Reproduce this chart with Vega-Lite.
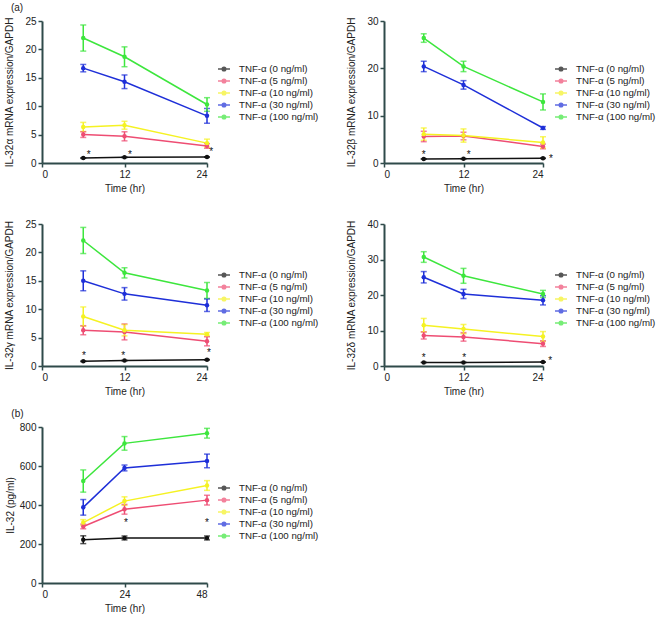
{
  "$schema": "https://vega.github.io/schema/vega-lite/v6.json",
  "autosize": {"type": "pad"},
  "padding": {"left": 4, "top": 3, "right": 0, "bottom": 5},
  "background": "white",
  "config": {
    "font": "Liberation Sans",
    "view": {"stroke": null},
    "axis": {"grid": false, "domainColor": "#2f4a4a", "domainWidth": 2, "tickColor": "#2f4a4a", "tickWidth": 1.5, "tickSize": 4, "labelColor": "#222222", "labelFontSize": 10, "titleFontSize": 10, "titleFontWeight": "normal", "titleColor": "#222222", "labelFont": "Liberation Sans", "titleFont": "Liberation Sans"},
    "legend": {"labelFont": "Liberation Sans", "labelFontSize": 9.7, "labelColor": "#222222"},
    "title": {"font": "Liberation Sans", "fontSize": 10, "fontWeight": "normal", "color": "#222222", "anchor": "start", "frame": "bounds", "offset": 3}
  },
  "datasets": {
    "main": [
      {"panel": "alpha", "dose": "TNF-α (0 ng/ml)", "time": 6, "value": 0.87, "err": 0.05},
      {"panel": "alpha", "dose": "TNF-α (0 ng/ml)", "time": 12, "value": 1.0, "err": 0.05},
      {"panel": "alpha", "dose": "TNF-α (0 ng/ml)", "time": 24, "value": 1.05, "err": 0.05},
      {"panel": "alpha", "dose": "TNF-α (5 ng/ml)", "time": 6, "value": 5.0, "err": 0.5},
      {"panel": "alpha", "dose": "TNF-α (5 ng/ml)", "time": 12, "value": 4.7, "err": 0.8},
      {"panel": "alpha", "dose": "TNF-α (5 ng/ml)", "time": 24, "value": 3.0, "err": 0.4},
      {"panel": "alpha", "dose": "TNF-α (10 ng/ml)", "time": 6, "value": 6.35, "err": 0.8},
      {"panel": "alpha", "dose": "TNF-α (10 ng/ml)", "time": 12, "value": 6.65, "err": 0.7},
      {"panel": "alpha", "dose": "TNF-α (10 ng/ml)", "time": 24, "value": 3.5, "err": 0.7},
      {"panel": "alpha", "dose": "TNF-α (30 ng/ml)", "time": 6, "value": 16.7, "err": 0.65},
      {"panel": "alpha", "dose": "TNF-α (30 ng/ml)", "time": 12, "value": 14.3, "err": 1.2},
      {"panel": "alpha", "dose": "TNF-α (30 ng/ml)", "time": 24, "value": 8.3, "err": 1.3},
      {"panel": "alpha", "dose": "TNF-α (100 ng/ml)", "time": 6, "value": 22.0, "err": 2.3},
      {"panel": "alpha", "dose": "TNF-α (100 ng/ml)", "time": 12, "value": 18.7, "err": 1.75},
      {"panel": "alpha", "dose": "TNF-α (100 ng/ml)", "time": 24, "value": 10.3, "err": 1.2},

      {"panel": "beta", "dose": "TNF-α (0 ng/ml)", "time": 6, "value": 0.86, "err": 0.05},
      {"panel": "beta", "dose": "TNF-α (0 ng/ml)", "time": 12, "value": 0.9, "err": 0.05},
      {"panel": "beta", "dose": "TNF-α (0 ng/ml)", "time": 24, "value": 1.0, "err": 0.05},
      {"panel": "beta", "dose": "TNF-α (5 ng/ml)", "time": 6, "value": 5.6, "err": 1.1},
      {"panel": "beta", "dose": "TNF-α (5 ng/ml)", "time": 12, "value": 5.7, "err": 0.8},
      {"panel": "beta", "dose": "TNF-α (5 ng/ml)", "time": 24, "value": 3.5, "err": 0.5},
      {"panel": "beta", "dose": "TNF-α (10 ng/ml)", "time": 6, "value": 6.1, "err": 1.3},
      {"panel": "beta", "dose": "TNF-α (10 ng/ml)", "time": 12, "value": 5.8, "err": 1.4},
      {"panel": "beta", "dose": "TNF-α (10 ng/ml)", "time": 24, "value": 4.35, "err": 1.2},
      {"panel": "beta", "dose": "TNF-α (30 ng/ml)", "time": 6, "value": 20.4, "err": 1.1},
      {"panel": "beta", "dose": "TNF-α (30 ng/ml)", "time": 12, "value": 16.5, "err": 0.9},
      {"panel": "beta", "dose": "TNF-α (30 ng/ml)", "time": 24, "value": 7.4, "err": 0.3},
      {"panel": "beta", "dose": "TNF-α (100 ng/ml)", "time": 6, "value": 26.4, "err": 0.9},
      {"panel": "beta", "dose": "TNF-α (100 ng/ml)", "time": 12, "value": 20.4, "err": 1.1},
      {"panel": "beta", "dose": "TNF-α (100 ng/ml)", "time": 24, "value": 12.9, "err": 1.7},

      {"panel": "gamma", "dose": "TNF-α (0 ng/ml)", "time": 6, "value": 0.83, "err": 0.05},
      {"panel": "gamma", "dose": "TNF-α (0 ng/ml)", "time": 12, "value": 0.95, "err": 0.05},
      {"panel": "gamma", "dose": "TNF-α (0 ng/ml)", "time": 24, "value": 1.1, "err": 0.05},
      {"panel": "gamma", "dose": "TNF-α (5 ng/ml)", "time": 6, "value": 6.3, "err": 0.8},
      {"panel": "gamma", "dose": "TNF-α (5 ng/ml)", "time": 12, "value": 6.0, "err": 1.4},
      {"panel": "gamma", "dose": "TNF-α (5 ng/ml)", "time": 24, "value": 4.35, "err": 0.8},
      {"panel": "gamma", "dose": "TNF-α (10 ng/ml)", "time": 6, "value": 8.7, "err": 1.7},
      {"panel": "gamma", "dose": "TNF-α (10 ng/ml)", "time": 12, "value": 6.3, "err": 1.0},
      {"panel": "gamma", "dose": "TNF-α (10 ng/ml)", "time": 24, "value": 5.6, "err": 0.3},
      {"panel": "gamma", "dose": "TNF-α (30 ng/ml)", "time": 6, "value": 15.0, "err": 1.75},
      {"panel": "gamma", "dose": "TNF-α (30 ng/ml)", "time": 12, "value": 12.7, "err": 1.1},
      {"panel": "gamma", "dose": "TNF-α (30 ng/ml)", "time": 24, "value": 10.7, "err": 1.1},
      {"panel": "gamma", "dose": "TNF-α (100 ng/ml)", "time": 6, "value": 22.1, "err": 2.3},
      {"panel": "gamma", "dose": "TNF-α (100 ng/ml)", "time": 12, "value": 16.4, "err": 0.9},
      {"panel": "gamma", "dose": "TNF-α (100 ng/ml)", "time": 24, "value": 13.3, "err": 1.4},

      {"panel": "delta", "dose": "TNF-α (0 ng/ml)", "time": 6, "value": 1.0, "err": 0.05},
      {"panel": "delta", "dose": "TNF-α (0 ng/ml)", "time": 12, "value": 1.0, "err": 0.05},
      {"panel": "delta", "dose": "TNF-α (0 ng/ml)", "time": 24, "value": 1.1, "err": 0.05},
      {"panel": "delta", "dose": "TNF-α (5 ng/ml)", "time": 6, "value": 8.6, "err": 1.0},
      {"panel": "delta", "dose": "TNF-α (5 ng/ml)", "time": 12, "value": 8.2, "err": 1.2},
      {"panel": "delta", "dose": "TNF-α (5 ng/ml)", "time": 24, "value": 6.3, "err": 0.8},
      {"panel": "delta", "dose": "TNF-α (10 ng/ml)", "time": 6, "value": 11.5, "err": 1.9},
      {"panel": "delta", "dose": "TNF-α (10 ng/ml)", "time": 12, "value": 10.4, "err": 1.3},
      {"panel": "delta", "dose": "TNF-α (10 ng/ml)", "time": 24, "value": 8.3, "err": 1.4},
      {"panel": "delta", "dose": "TNF-α (30 ng/ml)", "time": 6, "value": 25.0, "err": 1.6},
      {"panel": "delta", "dose": "TNF-α (30 ng/ml)", "time": 12, "value": 20.3, "err": 1.3},
      {"panel": "delta", "dose": "TNF-α (30 ng/ml)", "time": 24, "value": 18.5, "err": 1.3},
      {"panel": "delta", "dose": "TNF-α (100 ng/ml)", "time": 6, "value": 30.7, "err": 1.5},
      {"panel": "delta", "dose": "TNF-α (100 ng/ml)", "time": 12, "value": 25.4, "err": 2.1},
      {"panel": "delta", "dose": "TNF-α (100 ng/ml)", "time": 24, "value": 20.3, "err": 1.0},

      {"panel": "prot", "dose": "TNF-α (0 ng/ml)", "time": 12, "value": 222, "err": 20},
      {"panel": "prot", "dose": "TNF-α (0 ng/ml)", "time": 24, "value": 231, "err": 10},
      {"panel": "prot", "dose": "TNF-α (0 ng/ml)", "time": 48, "value": 231, "err": 10},
      {"panel": "prot", "dose": "TNF-α (5 ng/ml)", "time": 12, "value": 290, "err": 12},
      {"panel": "prot", "dose": "TNF-α (5 ng/ml)", "time": 24, "value": 378, "err": 25},
      {"panel": "prot", "dose": "TNF-α (5 ng/ml)", "time": 48, "value": 425, "err": 25},
      {"panel": "prot", "dose": "TNF-α (10 ng/ml)", "time": 12, "value": 310, "err": 15},
      {"panel": "prot", "dose": "TNF-α (10 ng/ml)", "time": 24, "value": 420, "err": 22},
      {"panel": "prot", "dose": "TNF-α (10 ng/ml)", "time": 48, "value": 500, "err": 25},
      {"panel": "prot", "dose": "TNF-α (30 ng/ml)", "time": 12, "value": 388, "err": 40},
      {"panel": "prot", "dose": "TNF-α (30 ng/ml)", "time": 24, "value": 590, "err": 15},
      {"panel": "prot", "dose": "TNF-α (30 ng/ml)", "time": 48, "value": 626, "err": 35},
      {"panel": "prot", "dose": "TNF-α (100 ng/ml)", "time": 12, "value": 523, "err": 57},
      {"panel": "prot", "dose": "TNF-α (100 ng/ml)", "time": 24, "value": 716, "err": 35},
      {"panel": "prot", "dose": "TNF-α (100 ng/ml)", "time": 48, "value": 768, "err": 25}
    ],
    "stars": [
      {"panel": "alpha", "time": 6.8, "value": 1.8},
      {"panel": "alpha", "time": 12.8, "value": 1.8},
      {"panel": "alpha", "time": 24.6, "value": 2.3},
      {"panel": "beta", "time": 6.0, "value": 2.05},
      {"panel": "beta", "time": 12.8, "value": 2.05},
      {"panel": "beta", "time": 25.2, "value": 1.33},
      {"panel": "gamma", "time": 6.1, "value": 2.17},
      {"panel": "gamma", "time": 11.8, "value": 2.17},
      {"panel": "gamma", "time": 24.3, "value": 2.6},
      {"panel": "delta", "time": 6.0, "value": 2.8},
      {"panel": "delta", "time": 12.1, "value": 2.8},
      {"panel": "delta", "time": 25.1, "value": 2.0},
      {"panel": "prot", "time": 24.4, "value": 318},
      {"panel": "prot", "time": 48.0, "value": 318}
    ]
  },
  "columns": 2,
  "bounds": "flush",
  "spacing": {"row": 61, "column": 177},
  "resolve": {"scale": {"color": "independent"}, "legend": {"color": "independent"}},
  "concat": [
    {
      "width": 165, "height": 142,
      "title": {"text": "(a)", "dx": 6},
      "encoding": {
        "x": {"field": "time", "type": "quantitative", "scale": {"domain": [0, 24], "nice": false}, "axis": {"values": [0, 12, 24], "title": "Time (hr)"}},
        "y": {"field": "value", "type": "quantitative", "scale": {"domain": [0, 25], "nice": false}, "axis": {"values": [0, 5, 10, 15, 20, 25], "title": "IL-32α mRNA expression/GAPDH", "titlePadding": 10}}
      },
      "layer": [
        {"data": {"name": "main"}, "transform": [{"filter": "datum.panel === 'alpha'"}], "mark": {"type": "errorbar", "ticks": {"size": 6}, "thickness": 1.5}, "encoding": {"yError": {"field": "err"}, "color": {"field": "dose", "type": "nominal", "scale": {"domain": ["TNF-α (0 ng/ml)", "TNF-α (5 ng/ml)", "TNF-α (10 ng/ml)", "TNF-α (30 ng/ml)", "TNF-α (100 ng/ml)"], "range": ["#111111", "#ee4d73", "#f5f223", "#1e2fd8", "#3de63d"]}, "legend": {"title": null, "orient": "none", "legendX": 175, "legendY": 41, "symbolType": "M-1,0H1M-0.3,0A0.3,0.3,0,1,1,0.3,0A0.3,0.3,0,1,1,-0.3,0Z", "symbolSize": 144, "symbolStrokeWidth": 1.5, "rowPadding": 0, "labelOffset": 8, "padding": 0}}}},
        {"data": {"name": "main"}, "transform": [{"filter": "datum.panel === 'alpha'"}], "mark": {"type": "line", "strokeWidth": 1.5}, "encoding": {"color": {"field": "dose", "type": "nominal"}}},
        {"data": {"name": "main"}, "transform": [{"filter": "datum.panel === 'alpha'"}], "mark": {"type": "point", "filled": true, "size": 20, "opacity": 1}, "encoding": {"color": {"field": "dose", "type": "nominal"}}},
        {"data": {"name": "stars"}, "transform": [{"filter": "datum.panel === 'alpha'"}], "mark": {"type": "text", "text": "*", "fontSize": 10, "fill": "#111111", "baseline": "middle", "dy": 2}, "encoding": {}}
      ]
    },
    {
      "width": 159, "height": 142,
      "encoding": {
        "x": {"field": "time", "type": "quantitative", "scale": {"domain": [0, 24], "nice": false}, "axis": {"values": [0, 12, 24], "title": "Time (hr)"}},
        "y": {"field": "value", "type": "quantitative", "scale": {"domain": [0, 30], "nice": false}, "axis": {"values": [0, 10, 20, 30], "title": "IL-32β mRNA expression/GAPDH", "titlePadding": 10}}
      },
      "layer": [
        {"data": {"name": "main"}, "transform": [{"filter": "datum.panel === 'beta'"}], "mark": {"type": "errorbar", "ticks": {"size": 6}, "thickness": 1.5}, "encoding": {"yError": {"field": "err"}, "color": {"field": "dose", "type": "nominal", "scale": {"domain": ["TNF-α (0 ng/ml)", "TNF-α (5 ng/ml)", "TNF-α (10 ng/ml)", "TNF-α (30 ng/ml)", "TNF-α (100 ng/ml)"], "range": ["#111111", "#ee4d73", "#f5f223", "#1e2fd8", "#3de63d"]}, "legend": {"title": null, "orient": "none", "legendX": 170, "legendY": 41, "symbolType": "M-1,0H1M-0.3,0A0.3,0.3,0,1,1,0.3,0A0.3,0.3,0,1,1,-0.3,0Z", "symbolSize": 144, "symbolStrokeWidth": 1.5, "rowPadding": 0, "labelOffset": 8, "padding": 0}}}},
        {"data": {"name": "main"}, "transform": [{"filter": "datum.panel === 'beta'"}], "mark": {"type": "line", "strokeWidth": 1.5}, "encoding": {"color": {"field": "dose", "type": "nominal"}}},
        {"data": {"name": "main"}, "transform": [{"filter": "datum.panel === 'beta'"}], "mark": {"type": "point", "filled": true, "size": 20, "opacity": 1}, "encoding": {"color": {"field": "dose", "type": "nominal"}}},
        {"data": {"name": "stars"}, "transform": [{"filter": "datum.panel === 'beta'"}], "mark": {"type": "text", "text": "*", "fontSize": 10, "fill": "#111111", "baseline": "middle", "dy": 2}, "encoding": {}}
      ]
    },
    {
      "width": 165, "height": 142,
      "encoding": {
        "x": {"field": "time", "type": "quantitative", "scale": {"domain": [0, 24], "nice": false}, "axis": {"values": [0, 12, 24], "title": "Time (hr)"}},
        "y": {"field": "value", "type": "quantitative", "scale": {"domain": [0, 25], "nice": false}, "axis": {"values": [0, 5, 10, 15, 20, 25], "title": "IL-32γ mRNA expression/GAPDH", "titlePadding": 10}}
      },
      "layer": [
        {"data": {"name": "main"}, "transform": [{"filter": "datum.panel === 'gamma'"}], "mark": {"type": "errorbar", "ticks": {"size": 6}, "thickness": 1.5}, "encoding": {"yError": {"field": "err"}, "color": {"field": "dose", "type": "nominal", "scale": {"domain": ["TNF-α (0 ng/ml)", "TNF-α (5 ng/ml)", "TNF-α (10 ng/ml)", "TNF-α (30 ng/ml)", "TNF-α (100 ng/ml)"], "range": ["#111111", "#ee4d73", "#f5f223", "#1e2fd8", "#3de63d"]}, "legend": {"title": null, "orient": "none", "legendX": 175, "legendY": 44, "symbolType": "M-1,0H1M-0.3,0A0.3,0.3,0,1,1,0.3,0A0.3,0.3,0,1,1,-0.3,0Z", "symbolSize": 144, "symbolStrokeWidth": 1.5, "rowPadding": 0, "labelOffset": 8, "padding": 0}}}},
        {"data": {"name": "main"}, "transform": [{"filter": "datum.panel === 'gamma'"}], "mark": {"type": "line", "strokeWidth": 1.5}, "encoding": {"color": {"field": "dose", "type": "nominal"}}},
        {"data": {"name": "main"}, "transform": [{"filter": "datum.panel === 'gamma'"}], "mark": {"type": "point", "filled": true, "size": 20, "opacity": 1}, "encoding": {"color": {"field": "dose", "type": "nominal"}}},
        {"data": {"name": "stars"}, "transform": [{"filter": "datum.panel === 'gamma'"}], "mark": {"type": "text", "text": "*", "fontSize": 10, "fill": "#111111", "baseline": "middle", "dy": 2}, "encoding": {}}
      ]
    },
    {
      "width": 159, "height": 142,
      "encoding": {
        "x": {"field": "time", "type": "quantitative", "scale": {"domain": [0, 24], "nice": false}, "axis": {"values": [0, 12, 24], "title": "Time (hr)"}},
        "y": {"field": "value", "type": "quantitative", "scale": {"domain": [0, 40], "nice": false}, "axis": {"values": [0, 10, 20, 30, 40], "title": "IL-32δ mRNA expression/GAPDH", "titlePadding": 10}}
      },
      "layer": [
        {"data": {"name": "main"}, "transform": [{"filter": "datum.panel === 'delta'"}], "mark": {"type": "errorbar", "ticks": {"size": 6}, "thickness": 1.5}, "encoding": {"yError": {"field": "err"}, "color": {"field": "dose", "type": "nominal", "scale": {"domain": ["TNF-α (0 ng/ml)", "TNF-α (5 ng/ml)", "TNF-α (10 ng/ml)", "TNF-α (30 ng/ml)", "TNF-α (100 ng/ml)"], "range": ["#111111", "#ee4d73", "#f5f223", "#1e2fd8", "#3de63d"]}, "legend": {"title": null, "orient": "none", "legendX": 170, "legendY": 44, "symbolType": "M-1,0H1M-0.3,0A0.3,0.3,0,1,1,0.3,0A0.3,0.3,0,1,1,-0.3,0Z", "symbolSize": 144, "symbolStrokeWidth": 1.5, "rowPadding": 0, "labelOffset": 8, "padding": 0}}}},
        {"data": {"name": "main"}, "transform": [{"filter": "datum.panel === 'delta'"}], "mark": {"type": "line", "strokeWidth": 1.5}, "encoding": {"color": {"field": "dose", "type": "nominal"}}},
        {"data": {"name": "main"}, "transform": [{"filter": "datum.panel === 'delta'"}], "mark": {"type": "point", "filled": true, "size": 20, "opacity": 1}, "encoding": {"color": {"field": "dose", "type": "nominal"}}},
        {"data": {"name": "stars"}, "transform": [{"filter": "datum.panel === 'delta'"}], "mark": {"type": "text", "text": "*", "fontSize": 10, "fill": "#111111", "baseline": "middle", "dy": 2}, "encoding": {}}
      ]
    },
    {
      "width": 165, "height": 156,
      "title": {"text": "(b)", "dx": 6},
      "encoding": {
        "x": {"field": "time", "type": "quantitative", "scale": {"domain": [0, 48], "nice": false}, "axis": {"values": [0, 24, 48], "title": "Time (hr)"}},
        "y": {"field": "value", "type": "quantitative", "scale": {"domain": [0, 800], "nice": false}, "axis": {"values": [0, 200, 400, 600, 800], "title": "IL-32 (pg/ml)", "titlePadding": 4}}
      },
      "layer": [
        {"data": {"name": "main"}, "transform": [{"filter": "datum.panel === 'prot'"}], "mark": {"type": "errorbar", "ticks": {"size": 6}, "thickness": 1.5}, "encoding": {"yError": {"field": "err"}, "color": {"field": "dose", "type": "nominal", "scale": {"domain": ["TNF-α (0 ng/ml)", "TNF-α (5 ng/ml)", "TNF-α (10 ng/ml)", "TNF-α (30 ng/ml)", "TNF-α (100 ng/ml)"], "range": ["#111111", "#ee4d73", "#f5f223", "#1e2fd8", "#3de63d"]}, "legend": {"title": null, "orient": "none", "legendX": 175, "legendY": 54, "symbolType": "M-1,0H1M-0.3,0A0.3,0.3,0,1,1,0.3,0A0.3,0.3,0,1,1,-0.3,0Z", "symbolSize": 144, "symbolStrokeWidth": 1.5, "rowPadding": 0, "labelOffset": 8, "padding": 0}}}},
        {"data": {"name": "main"}, "transform": [{"filter": "datum.panel === 'prot'"}], "mark": {"type": "line", "strokeWidth": 1.5}, "encoding": {"color": {"field": "dose", "type": "nominal"}}},
        {"data": {"name": "main"}, "transform": [{"filter": "datum.panel === 'prot'"}], "mark": {"type": "point", "filled": true, "size": 20, "opacity": 1}, "encoding": {"color": {"field": "dose", "type": "nominal"}}},
        {"data": {"name": "stars"}, "transform": [{"filter": "datum.panel === 'prot'"}], "mark": {"type": "text", "text": "*", "fontSize": 10, "fill": "#111111", "baseline": "middle", "dy": 2}, "encoding": {}}
      ]
    }
  ]
}
